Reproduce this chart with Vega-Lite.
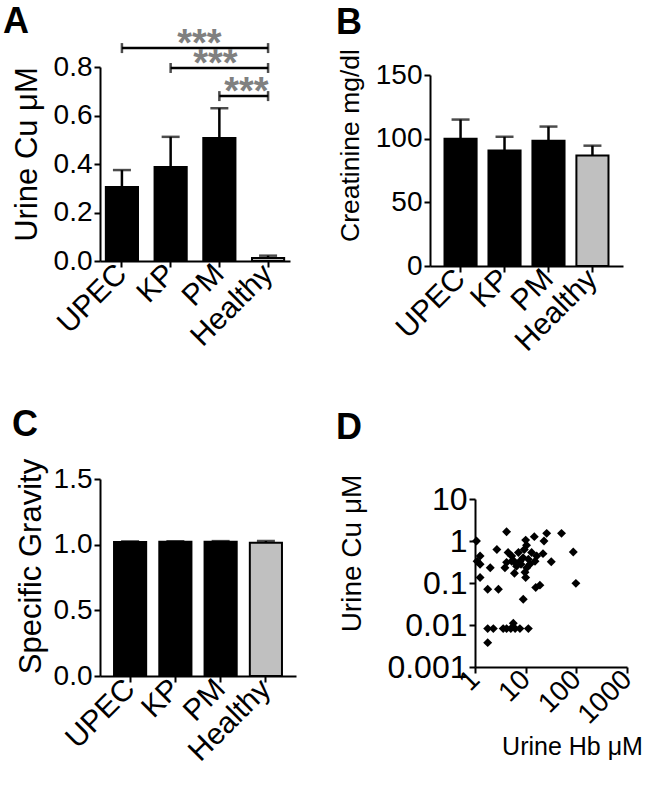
{
  "$schema": "https://vega.github.io/schema/vega-lite/v6.json",
  "padding": {"left": 3, "top": 4, "right": 0, "bottom": 0},
  "autosize": {"type": "pad"},
  "datasets": {
    "barsA": [
      {"grp": "UPEC", "mean": 0.305, "upper": 0.375},
      {"grp": "KP", "mean": 0.388, "upper": 0.512},
      {"grp": "PM", "mean": 0.507, "upper": 0.63},
      {"grp": "Healthy", "mean": 0.012, "upper": 0.022}
    ],
    "bracketsA": [
      {"id": 1, "from": "UPEC", "to": "Healthy", "level": 0.878},
      {"id": 2, "from": "KP", "to": "Healthy", "level": 0.796},
      {"id": 3, "from": "PM", "to": "Healthy", "level": 0.68}
    ],
    "bracketEndsA": [
      {"grp": "UPEC", "level": 0.878},
      {"grp": "Healthy", "level": 0.878},
      {"grp": "KP", "level": 0.796},
      {"grp": "Healthy", "level": 0.796},
      {"grp": "PM", "level": 0.68},
      {"grp": "Healthy", "level": 0.68}
    ],
    "barsB": [
      {"grp": "UPEC", "mean": 100, "upper": 115},
      {"grp": "KP", "mean": 90.8, "upper": 101.5},
      {"grp": "PM", "mean": 98.4, "upper": 109.5},
      {"grp": "Healthy", "mean": 86.8, "upper": 94.5}
    ],
    "barsC": [
      {"grp": "UPEC", "mean": 1.02, "upper": 1.025},
      {"grp": "KP", "mean": 1.022, "upper": 1.026},
      {"grp": "PM", "mean": 1.022, "upper": 1.027},
      {"grp": "Healthy", "mean": 1.015, "upper": 1.028}
    ],
    "scatterD": [
      {"hb": 1.07, "cu": 1.0}, {"hb": 4.2, "cu": 1.66}, {"hb": 2.7, "cu": 0.63}, {"hb": 1.26, "cu": 0.44},
      {"hb": 1.26, "cu": 0.28}, {"hb": 2.0, "cu": 0.23}, {"hb": 1.26, "cu": 0.135}, {"hb": 1.78, "cu": 0.071},
      {"hb": 2.9, "cu": 0.071}, {"hb": 8.96, "cu": 0.041}, {"hb": 15.8, "cu": 0.078}, {"hb": 19.1, "cu": 0.089},
      {"hb": 98, "cu": 0.098}, {"hb": 87, "cu": 0.55}, {"hb": 51, "cu": 1.52}, {"hb": 26, "cu": 1.52},
      {"hb": 23, "cu": 1.0}, {"hb": 14.8, "cu": 1.27}, {"hb": 10, "cu": 1.05}, {"hb": 10.4, "cu": 0.79},
      {"hb": 22, "cu": 0.5}, {"hb": 32, "cu": 0.32}, {"hb": 4.5, "cu": 0.53}, {"hb": 4.2, "cu": 0.31},
      {"hb": 5.3, "cu": 0.44}, {"hb": 3.9, "cu": 0.23}, {"hb": 6.0, "cu": 0.17}, {"hb": 7.2, "cu": 0.53},
      {"hb": 7.7, "cu": 0.33}, {"hb": 8.9, "cu": 0.4}, {"hb": 11.3, "cu": 0.37}, {"hb": 13.1, "cu": 0.53},
      {"hb": 15.3, "cu": 0.33}, {"hb": 10.5, "cu": 0.23}, {"hb": 9.7, "cu": 0.18}, {"hb": 10, "cu": 0.135},
      {"hb": 6.6, "cu": 0.25}, {"hb": 5.3, "cu": 0.33}, {"hb": 12.1, "cu": 0.28}, {"hb": 16.5, "cu": 0.44},
      {"hb": 9.4, "cu": 0.63}, {"hb": 5.9, "cu": 0.33}, {"hb": 8.1, "cu": 0.28}, {"hb": 1.1, "cu": 0.33},
      {"hb": 1.78, "cu": 0.0082}, {"hb": 2.3, "cu": 0.0082}, {"hb": 3.6, "cu": 0.0082}, {"hb": 4.2, "cu": 0.0082},
      {"hb": 5.1, "cu": 0.0082}, {"hb": 6.2, "cu": 0.0082}, {"hb": 7.7, "cu": 0.0082}, {"hb": 11.3, "cu": 0.0082},
      {"hb": 5.7, "cu": 0.011}, {"hb": 1.78, "cu": 0.0038}
    ]
  },
  "align": "none",
  "spacing": 50,
  "vconcat": [
    {
      "align": "none",
      "spacing": 46,
      "hconcat": [
        {
          "title": {"text": "A", "dx": -97, "offset": -15},
          "width": 190,
          "height": 194,
          "layer": [
            {
              "data": {"name": "barsA"},
              "mark": {"type": "bar", "stroke": "black", "strokeWidth": 2},
              "encoding": {
                "x": {"field": "grp", "type": "nominal", "sort": null, "title": null,
                      "scale": {"domain": ["UPEC", "KP", "PM", "Healthy"], "paddingInner": 0.34, "paddingOuter": 0.12},
                      "axis": {"labelAngle": -45, "labelAlign": "right", "labelBaseline": "middle", "labelOverlap": false, "labelFontSize": 30}},
                "y": {"field": "mean", "type": "quantitative", "title": "Urine Cu μM",
                      "scale": {"domain": [0, 0.8], "nice": false},
                      "axis": {"values": [0, 0.2, 0.4, 0.6, 0.8], "format": ".1f", "titleY": 87, "titleFontSize": 31, "titlePadding": 10}},
                "color": {"field": "grp", "type": "nominal", "legend": null,
                          "scale": {"domain": ["UPEC", "KP", "PM", "Healthy"], "range": ["#000000", "#000000", "#000000", "#c0c0c0"]}}
              }
            },
            {
              "data": {"name": "barsA"},
              "mark": {"type": "rule", "color": "black", "strokeWidth": 2.5},
              "encoding": {
                "x": {"field": "grp", "type": "nominal", "sort": null, "title": null},
                "y": {"field": "mean", "type": "quantitative", "title": "Urine Cu μM"},
                "y2": {"field": "upper"}
              }
            },
            {
              "data": {"name": "barsA"},
              "mark": {"type": "tick", "color": "black", "size": 18, "thickness": 2.5, "orient": "horizontal"},
              "encoding": {
                "x": {"field": "grp", "type": "nominal", "sort": null, "title": null},
                "y": {"field": "upper", "type": "quantitative", "title": "Urine Cu μM"}
              }
            },
            {
              "data": {"name": "bracketsA"},
              "mark": {"type": "rule", "color": "black", "strokeWidth": 2.5},
              "encoding": {
                "x": {"field": "from", "type": "nominal", "sort": null, "title": null},
                "x2": {"field": "to"},
                "y": {"field": "level", "type": "quantitative", "title": "Urine Cu μM"}
              }
            },
            {
              "data": {"name": "bracketEndsA"},
              "mark": {"type": "tick", "color": "black", "size": 10, "thickness": 2.5, "orient": "vertical"},
              "encoding": {
                "x": {"field": "grp", "type": "nominal", "sort": null, "title": null},
                "y": {"field": "level", "type": "quantitative", "title": "Urine Cu μM"}
              }
            },
            {
              "data": {"name": "bracketsA"},
              "transform": [{"filter": "datum.id == 1"}],
              "mark": {"type": "text", "text": "***", "color": "#808080", "fontSize": 38, "fontWeight": "bold", "baseline": "alphabetic", "dx": -20, "dy": 8},
              "encoding": {
                "x": {"datum": "PM", "type": "nominal"},
                "y": {"field": "level", "type": "quantitative", "title": "Urine Cu μM"}
              }
            },
            {
              "data": {"name": "bracketsA"},
              "transform": [{"filter": "datum.id == 2"}],
              "mark": {"type": "text", "text": "***", "color": "#808080", "fontSize": 38, "fontWeight": "bold", "baseline": "alphabetic", "dx": -4, "dy": 8},
              "encoding": {
                "x": {"datum": "PM", "type": "nominal"},
                "y": {"field": "level", "type": "quantitative", "title": "Urine Cu μM"}
              }
            },
            {
              "data": {"name": "bracketsA"},
              "transform": [{"filter": "datum.id == 3"}],
              "mark": {"type": "text", "text": "***", "color": "#808080", "fontSize": 38, "fontWeight": "bold", "baseline": "alphabetic", "dx": 27, "dy": 8},
              "encoding": {
                "x": {"datum": "PM", "type": "nominal"},
                "y": {"field": "level", "type": "quantitative", "title": "Urine Cu μM"}
              }
            }
          ]
        },
        {
          "title": {"text": "B", "dx": -94, "offset": 7},
          "width": 193,
          "height": 199,
          "layer": [
            {
              "data": {"name": "barsB"},
              "mark": {"type": "bar", "stroke": "black", "strokeWidth": 2},
              "encoding": {
                "x": {"field": "grp", "type": "nominal", "sort": null, "title": null,
                      "scale": {"domain": ["UPEC", "KP", "PM", "Healthy"], "paddingInner": 0.27, "paddingOuter": 0.33},
                      "axis": {"labelAngle": -45, "labelAlign": "right", "labelBaseline": "middle", "labelOverlap": false, "labelFontSize": 30}},
                "y": {"field": "mean", "type": "quantitative", "title": "Creatinine mg/dl",
                      "scale": {"domain": [0, 150], "nice": false, "range": [199, 8]},
                      "axis": {"values": [0, 50, 100, 150], "titleY": 78, "titleFontSize": 26.5, "titlePadding": 11}},
                "color": {"field": "grp", "type": "nominal", "legend": null,
                          "scale": {"domain": ["UPEC", "KP", "PM", "Healthy"], "range": ["#000000", "#000000", "#000000", "#c0c0c0"]}}
              }
            },
            {
              "data": {"name": "barsB"},
              "mark": {"type": "rule", "color": "black", "strokeWidth": 2.5},
              "encoding": {
                "x": {"field": "grp", "type": "nominal", "sort": null, "title": null},
                "y": {"field": "mean", "type": "quantitative", "title": "Creatinine mg/dl"},
                "y2": {"field": "upper"}
              }
            },
            {
              "data": {"name": "barsB"},
              "mark": {"type": "tick", "color": "black", "size": 18, "thickness": 2.5, "orient": "horizontal"},
              "encoding": {
                "x": {"field": "grp", "type": "nominal", "sort": null, "title": null},
                "y": {"field": "upper", "type": "quantitative", "title": "Creatinine mg/dl"}
              }
            }
          ]
        }
      ]
    },
    {
      "align": "none",
      "spacing": 40,
      "hconcat": [
        {
          "title": {"text": "C", "dx": -88, "offset": 14},
          "width": 196,
          "height": 197,
          "layer": [
            {
              "data": {"name": "barsC"},
              "mark": {"type": "bar", "stroke": "black", "strokeWidth": 2},
              "encoding": {
                "x": {"field": "grp", "type": "nominal", "sort": null, "title": null,
                      "scale": {"domain": ["UPEC", "KP", "PM", "Healthy"], "paddingInner": 0.29, "paddingOuter": 0.31},
                      "axis": {"labelAngle": -45, "labelAlign": "right", "labelBaseline": "middle", "labelOverlap": false, "labelFontSize": 30}},
                "y": {"field": "mean", "type": "quantitative", "title": "Specific Gravity",
                      "scale": {"domain": [0, 1.5], "nice": false},
                      "axis": {"values": [0, 0.5, 1.0, 1.5], "format": ".1f", "titleY": 87, "titleFontSize": 31, "titlePadding": 6}},
                "color": {"field": "grp", "type": "nominal", "legend": null,
                          "scale": {"domain": ["UPEC", "KP", "PM", "Healthy"], "range": ["#000000", "#000000", "#000000", "#c0c0c0"]}}
              }
            },
            {
              "data": {"name": "barsC"},
              "mark": {"type": "rule", "color": "black", "strokeWidth": 2.5},
              "encoding": {
                "x": {"field": "grp", "type": "nominal", "sort": null, "title": null},
                "y": {"field": "mean", "type": "quantitative", "title": "Specific Gravity"},
                "y2": {"field": "upper"}
              }
            },
            {
              "data": {"name": "barsC"},
              "mark": {"type": "tick", "color": "black", "size": 18, "thickness": 2.5, "orient": "horizontal"},
              "encoding": {
                "x": {"field": "grp", "type": "nominal", "sort": null, "title": null},
                "y": {"field": "upper", "type": "quantitative", "title": "Specific Gravity"}
              }
            }
          ]
        },
        {
          "title": {"text": "D", "dx": -139, "offset": 27},
          "width": 152,
          "height": 188,
          "layer": [
            {
              "data": {"name": "scatterD"},
              "mark": {"type": "point", "shape": "diamond", "filled": true, "color": "black", "size": 80, "opacity": 1},
              "encoding": {
                "x": {"field": "hb", "type": "quantitative", "title": "Urine Hb μM",
                      "scale": {"type": "log", "domain": [1, 1000], "nice": false},
                      "axis": {"values": [1, 10, 100, 1000], "format": "~g", "labelAngle": -45, "labelAlign": "right", "labelBaseline": "middle", "labelOverlap": false, "titleX": 97, "titlePadding": 6, "titleFontSize": 25}},
                "y": {"field": "cu", "type": "quantitative", "title": "Urine Cu μM",
                      "scale": {"type": "log", "domain": [0.001, 10], "nice": false, "range": [188, 20]},
                      "axis": {"values": [0.001, 0.01, 0.1, 1, 10], "format": "~g", "labelOverlap": false, "titleY": 74, "titleFontSize": 28, "titlePadding": 20, "labelFontSize": 32}}
              }
            },
            {
              "mark": {"type": "text", "text": "r = 0.2", "fontSize": 26, "color": "black", "baseline": "alphabetic", "dy": -6},
              "encoding": {
                "x": {"datum": 37.8, "type": "quantitative"},
                "y": {"datum": 10, "type": "quantitative"}
              }
            }
          ]
        }
      ]
    }
  ],
  "config": {
    "font": "Liberation Sans",
    "view": {"stroke": null},
    "axis": {
      "labelFont": "Liberation Sans", "titleFont": "Liberation Sans",
      "labelFontSize": 28, "titleFontSize": 28, "titleFontWeight": "normal",
      "labelColor": "black", "titleColor": "black", "domainColor": "black", "tickColor": "black",
      "domainWidth": 2, "tickWidth": 2, "tickSize": 6, "grid": false, "labelPadding": 2,
      "titlePadding": 8, "labelFlush": false
    },
    "title": {"fontSize": 36, "fontWeight": "bold", "anchor": "start", "frame": "group", "color": "black", "font": "Liberation Sans"}
  }
}
